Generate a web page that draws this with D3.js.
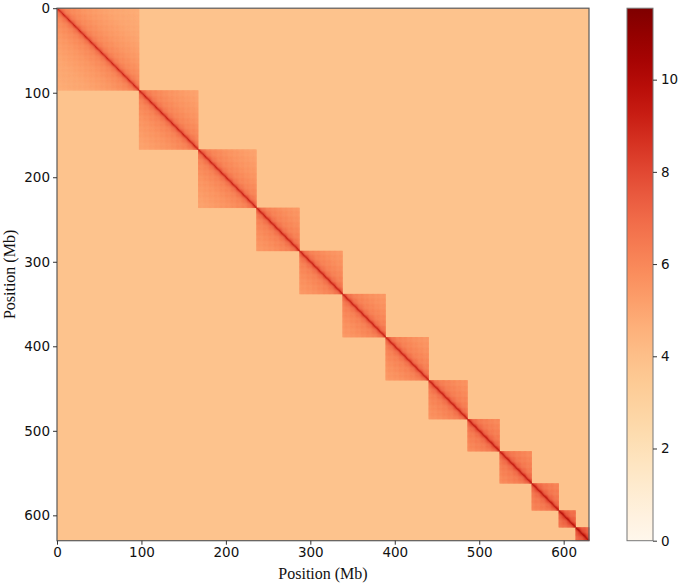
<!DOCTYPE html>
<html><head><meta charset="utf-8">
<script src="https://cdn.jsdelivr.net/npm/d3@7"></script>
<style>body{margin:0;background:#fff;} svg{display:block}</style>
</head><body><svg id="chart" width="682" height="583"></svg>
<script>
// ---- data ----
const chromBounds = [0, 97, 167, 236, 287, 338, 389, 440, 486, 524, 562, 594, 614, 630]; // Mb
const intraOffset = [0, 0.15, 0.15, 0.25, 0.25, 0.25, 0.25, 0.35, 0.5, 0.5, 0.6, 0.9, 1.2];
const decayDistance = [0, 1, 3, 6, 12, 30, 60, 100];   // Mb from diagonal
const decayValue    = [9.6, 8.2, 7.1, 6.5, 6.0, 5.5, 5.0, 4.7];
const interValue = 3.8;
const binSize = 1; // Mb
const axisTicks = [0, 100, 200, 300, 400, 500, 600];
const colorTicks = [0, 2, 4, 6, 8, 10];
const colorDomain = [0, 11.55];
const axisDomain = [0, 630];

// ---- layout ----
const plot = {x0: 57, x1: 589, y0: 8.2, y1: 540.7};
const cbar = {x0: 627, x1: 653, y0: 8.2, y1: 540.7};

const svg = d3.select('#chart');
const x = d3.scaleLinear().domain(axisDomain).range([plot.x0, plot.x1]);
const y = d3.scaleLinear().domain(axisDomain).range([plot.y0, plot.y1]);
const color = d3.scaleSequential(d3.interpolateOrRd).domain(colorDomain);
const decay = d3.scaleLinear().domain(decayDistance).range(decayValue).clamp(true);

// build cells
const cells = [];
for (let c = 0; c < chromBounds.length - 1; c++) {
  const s = chromBounds[c], e = chromBounds[c + 1];
  const bins = [];
  for (let b = s; b < e; b += binSize) bins.push([b, Math.min(b + binSize, e)]);
  bins.forEach(bi => bins.forEach(bj => {
    const ci = (bi[0] + bi[1]) / 2, cj = (bj[0] + bj[1]) / 2;
    cells.push({x0: bj[0], x1: bj[1], y0: bi[0], y1: bi[1], v: decay(Math.abs(ci - cj)) + intraOffset[c]});
  }));
}

const g = svg.append('g');
g.append('rect')
  .attr('x', x(axisDomain[0])).attr('y', y(axisDomain[0]))
  .attr('width', x(axisDomain[1]) - x(axisDomain[0]))
  .attr('height', y(axisDomain[1]) - y(axisDomain[0]))
  .attr('fill', color(interValue));
g.selectAll('rect.cell').data(cells).join('rect').attr('class', 'cell')
  .attr('x', d => x(d.x0)).attr('y', d => y(d.y0))
  .attr('width', d => x(d.x1) - x(d.x0) + 0.35)
  .attr('height', d => y(d.y1) - y(d.y0) + 0.35)
  .attr('fill', d => color(d.v));

// frame
svg.append('rect').attr('x', plot.x0).attr('y', plot.y0)
  .attr('width', plot.x1 - plot.x0).attr('height', plot.y1 - plot.y0)
  .attr('fill', 'none').attr('stroke', '#5a5a5a').attr('stroke-width', 1.2);

const font = "DejaVu Sans, sans-serif";
const xAxis = svg.append('g').attr('transform', `translate(0,${plot.y1})`)
  .call(d3.axisBottom(x).tickValues(axisTicks).tickSize(4).tickPadding(3).tickFormat(d3.format('d')));
const yAxis = svg.append('g').attr('transform', `translate(${plot.x0},0)`)
  .call(d3.axisLeft(y).tickValues(axisTicks).tickSize(4).tickPadding(3).tickFormat(d3.format('d')));
[xAxis, yAxis].forEach(a => {
  a.select('.domain').remove();
  a.selectAll('line').attr('stroke', '#333');
  a.selectAll('text').attr('font-family', font).attr('font-size', 13.5).attr('fill', '#111');
});

svg.append('text').attr('x', (plot.x0 + plot.x1) / 2).attr('y', 579)
  .attr('text-anchor', 'middle').attr('font-family', 'Liberation Serif, serif').attr('font-size', 16)
  .attr('fill', '#111').text('Position (Mb)');
svg.append('text').attr('transform', `translate(15,${(plot.y0 + plot.y1) / 2}) rotate(-90)`)
  .attr('text-anchor', 'middle').attr('font-family', 'Liberation Serif, serif').attr('font-size', 16)
  .attr('fill', '#111').text('Position (Mb)');

// colorbar
const cy = d3.scaleLinear().domain(colorDomain).range([cbar.y1, cbar.y0]);
const defs = svg.append('defs');
const grad = defs.append('linearGradient').attr('id', 'cb').attr('x1', 0).attr('y1', 1).attr('x2', 0).attr('y2', 0);
d3.range(0, 1.0001, 0.05).forEach(t => grad.append('stop').attr('offset', t).attr('stop-color', d3.interpolateOrRd(t)));
svg.append('rect').attr('x', cbar.x0).attr('y', cbar.y0).attr('width', cbar.x1 - cbar.x0).attr('height', cbar.y1 - cbar.y0)
  .attr('fill', 'url(#cb)').attr('stroke', '#777').attr('stroke-width', 1);
const cAxis = svg.append('g').attr('transform', `translate(${cbar.x1},0)`)
  .call(d3.axisRight(cy).tickValues(colorTicks).tickSize(4).tickPadding(4).tickFormat(d3.format('d')));
cAxis.select('.domain').remove();
cAxis.selectAll('line').attr('stroke', '#333');
cAxis.selectAll('text').attr('font-family', font).attr('font-size', 13.5).attr('fill', '#111');
</script></body></html>
